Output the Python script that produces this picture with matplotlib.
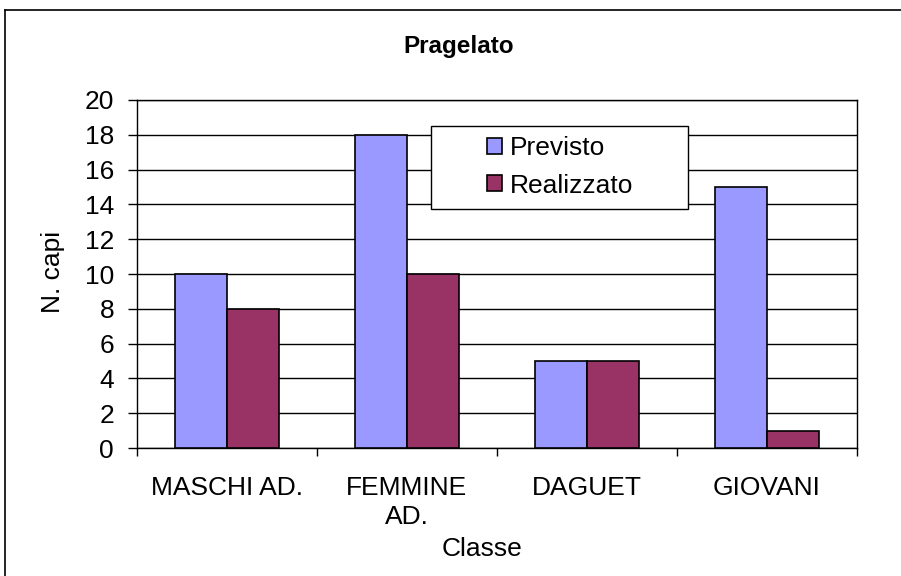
import matplotlib.pyplot as plt
import numpy as np
from matplotlib.lines import Line2D
from matplotlib.patches import Rectangle

plt.rcParams['font.family'] = ['Liberation Sans', 'DejaVu Sans']

categories = ["MASCHI AD.", "FEMMINE\nAD.", "DAGUET", "GIOVANI"]
previsto = [10, 18, 5, 15]
realizzato = [8, 10, 5, 1]

W, H = 901, 576
fig = plt.figure(figsize=(W / 100, H / 100), dpi=100)

def fx(px):
    return px / W

def fy(py):
    return 1 - py / H

# outer chart border (only left and top visible in the picture)
fig.add_artist(Line2D([fx(5), fx(5)], [0, fy(10)], transform=fig.transFigure,
                      color='black', lw=1.2))
fig.add_artist(Line2D([fx(5), 1], [fy(10), fy(10)], transform=fig.transFigure,
                      color='black', lw=1.2))

ax = fig.add_axes([fx(137), fy(448), 720 / W, 348 / H])

x = np.arange(len(categories))
bw = 0.29
ax.bar(x - bw / 2, previsto, bw, color='#9999FF', edgecolor='black', lw=1.2,
       label='Previsto', zorder=3)
ax.bar(x + bw / 2, realizzato, bw, color='#993366', edgecolor='black', lw=1.2,
       label='Realizzato', zorder=3)

ax.set_xlim(-0.5, len(categories) - 0.5)
ax.set_ylim(0, 20)
ax.set_yticks(range(0, 21, 2))
ax.yaxis.grid(True, color='black', lw=1.0, zorder=0)

ax.set_xticks(x)
ax.set_xticklabels(categories, fontsize=19, linespacing=1.3)
ax.set_xticks(np.arange(-0.5, len(categories)), minor=True)
ax.tick_params(axis='x', which='major', length=0, pad=20)
ax.tick_params(axis='x', which='minor', length=6, width=1, direction='out')
ax.tick_params(axis='y', length=6.5, width=1, labelsize=19, pad=10)

for s in ['left', 'bottom', 'right', 'top']:
    ax.spines[s].set_color('black')
    ax.spines[s].set_linewidth(1.0)

fig.text(fx(482), fy(549), "Classe", ha='center', va='center', fontsize=19)
fig.text(fx(53), fy(272), "N. capi", ha='center', va='center', fontsize=19,
         rotation=90)
fig.text(fx(459), fy(47), "Pragelato", ha='center', va='center',
         fontsize=17.5, fontweight='bold')

# legend box
box = Rectangle((fx(431), fy(209)), fx(688) - fx(431), fy(126) - fy(209),
                transform=fig.transFigure, facecolor='white',
                edgecolor='black', lw=1.0, zorder=4, clip_on=False)
ax.add_patch(box)
leg = ax.legend(loc='center', bbox_to_anchor=(fx(560), fy(167)),
                bbox_transform=fig.transFigure, fontsize=19, frameon=False,
                handlelength=0.55, handleheight=0.55, handletextpad=0.3,
                borderpad=0, labelspacing=0.5, borderaxespad=0)
leg.set_zorder(6)
leg._legend_box.align = 'left'

fig.savefig('out.png', dpi=100)
